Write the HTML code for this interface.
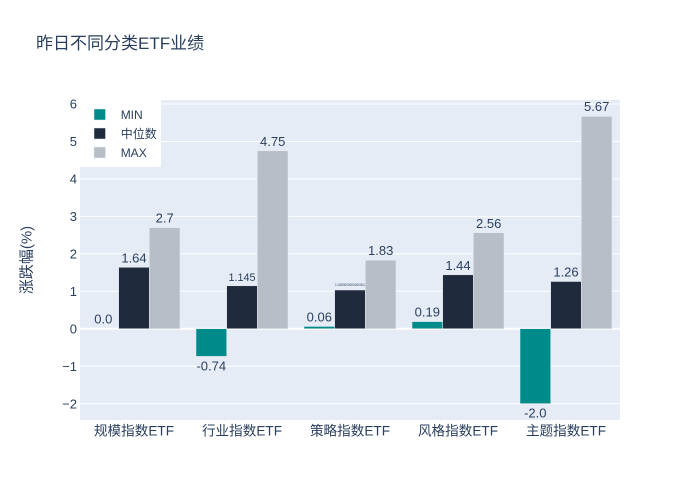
<!DOCTYPE html>
<html>
<head>
<meta charset="utf-8">
<style>
html,body{margin:0;padding:0;background:#fff;}
svg{display:block;}
text{font-family:"Liberation Sans","Noto Sans CJK SC",sans-serif;fill:#2a3f5f;}
</style>
</head>
<body>
<svg width="700" height="500" viewBox="0 0 700 500" xmlns="http://www.w3.org/2000/svg">
  <rect x="0" y="0" width="700" height="500" fill="#fff"/>
  <!-- plot bg -->
  <rect x="80" y="100" width="540" height="320" fill="#e5ecf6"/>
  <!-- grid -->
  <g stroke="#fff" stroke-width="1">
    <line x1="80" x2="620" y1="104" y2="104"/>
    <line x1="80" x2="620" y1="141.45" y2="141.45"/>
    <line x1="80" x2="620" y1="178.9" y2="178.9"/>
    <line x1="80" x2="620" y1="216.35" y2="216.35"/>
    <line x1="80" x2="620" y1="253.8" y2="253.8"/>
    <line x1="80" x2="620" y1="291.25" y2="291.25"/>
    <line x1="80" x2="620" y1="366.15" y2="366.15"/>
    <line x1="80" x2="620" y1="403.6" y2="403.6"/>
  </g>
  <line x1="80" x2="620" y1="328.7" y2="328.7" stroke="#fff" stroke-width="2"/>

  <!-- bars -->
  <g stroke="#e5ecf6" stroke-width="0.5">
    <!-- 规模 c=134 -->
    <rect x="118.67" y="267.3" width="30.67" height="61.4" fill="#1f2a3d"/>
    <rect x="149.33" y="227.6" width="30.67" height="101.1" fill="#b8bec6"/>
    <!-- 行业 c=242 -->
    <rect x="196" y="328.7" width="30.67" height="27.7" fill="#008b8b"/>
    <rect x="226.67" y="285.8" width="30.67" height="42.9" fill="#1f2a3d"/>
    <rect x="257.33" y="150.8" width="30.67" height="177.9" fill="#b8bec6"/>
    <!-- 策略 c=350 -->
    <rect x="304" y="326.45" width="30.67" height="2.25" fill="#008b8b"/>
    <rect x="334.67" y="290" width="30.67" height="38.7" fill="#1f2a3d"/>
    <rect x="365.33" y="260.2" width="30.67" height="68.5" fill="#b8bec6"/>
    <!-- 风格 c=458 -->
    <rect x="412" y="321.6" width="30.67" height="7.1" fill="#008b8b"/>
    <rect x="442.67" y="274.8" width="30.67" height="53.9" fill="#1f2a3d"/>
    <rect x="473.33" y="232.8" width="30.67" height="95.9" fill="#b8bec6"/>
    <!-- 主题 c=566 -->
    <rect x="520" y="328.7" width="30.67" height="74.9" fill="#008b8b"/>
    <rect x="550.67" y="281.5" width="30.67" height="47.2" fill="#1f2a3d"/>
    <rect x="581.33" y="116.4" width="30.67" height="212.3" fill="#b8bec6"/>
  </g>

  <!-- bar labels -->
  <g font-size="13" text-anchor="middle">
    <text x="103.3" y="323.7">0.0</text>
    <text x="134" y="262.3">1.64</text>
    <text x="164.7" y="222.6">2.7</text>

    <text x="211.3" y="370.4">-0.74</text>
    <text x="242" y="280.8" font-size="10.8">1.145</text>
    <text x="272.7" y="145.8">4.75</text>

    <text x="319.3" y="321.5">0.06</text>
    <text x="350" y="286" font-size="3.2" textLength="30" lengthAdjust="spacingAndGlyphs">1.0350000000000001</text>
    <text x="380.7" y="255.2">1.83</text>

    <text x="427.3" y="316.6">0.19</text>
    <text x="458" y="269.8">1.44</text>
    <text x="488.7" y="227.8">2.56</text>

    <text x="535.3" y="417.6">-2.0</text>
    <text x="566" y="276.5">1.26</text>
    <text x="596.7" y="110.8">5.67</text>
  </g>

  <!-- y ticks -->
  <g font-size="13" text-anchor="end">
    <text x="77" y="108.7">6</text>
    <text x="77" y="146.15">5</text>
    <text x="77" y="183.6">4</text>
    <text x="77" y="221.05">3</text>
    <text x="77" y="258.5">2</text>
    <text x="77" y="295.95">1</text>
    <text x="77" y="333.4">0</text>
    <text x="77" y="370.85">−1</text>
    <text x="77" y="408.3">−2</text>
  </g>

  <!-- x ticks -->
  <g font-size="13.6" text-anchor="middle">
    <text x="134" y="435.5">规模指数ETF</text>
    <text x="242" y="435.5">行业指数ETF</text>
    <text x="350" y="435.5">策略指数ETF</text>
    <text x="458" y="435.5">风格指数ETF</text>
    <text x="566" y="435.5">主题指数ETF</text>
  </g>

  <!-- y title -->
  <text x="0" y="0" font-size="15" text-anchor="middle" dominant-baseline="central" transform="translate(27,260) rotate(-90)">涨跌幅(%)</text>

  <!-- title -->
  <text x="36" y="49" font-size="17">昨日不同分类ETF业绩</text>

  <!-- legend -->
  <rect x="80" y="100" width="81" height="67" fill="#fff"/>
  <rect x="94" y="109" width="11.5" height="11" fill="#008b8b" stroke="#e5ecf6" stroke-width="0.5"/>
  <rect x="94" y="128" width="11.5" height="11" fill="#1f2a3d" stroke="#e5ecf6" stroke-width="0.5"/>
  <rect x="94" y="147" width="11.5" height="11" fill="#b8bec6" stroke="#e5ecf6" stroke-width="0.5"/>
  <g font-size="12">
    <text x="120.7" y="119">MIN</text>
    <text x="120.7" y="137.8">中位数</text>
    <text x="120.7" y="156.8">MAX</text>
  </g>
</svg>
</body>
</html>
